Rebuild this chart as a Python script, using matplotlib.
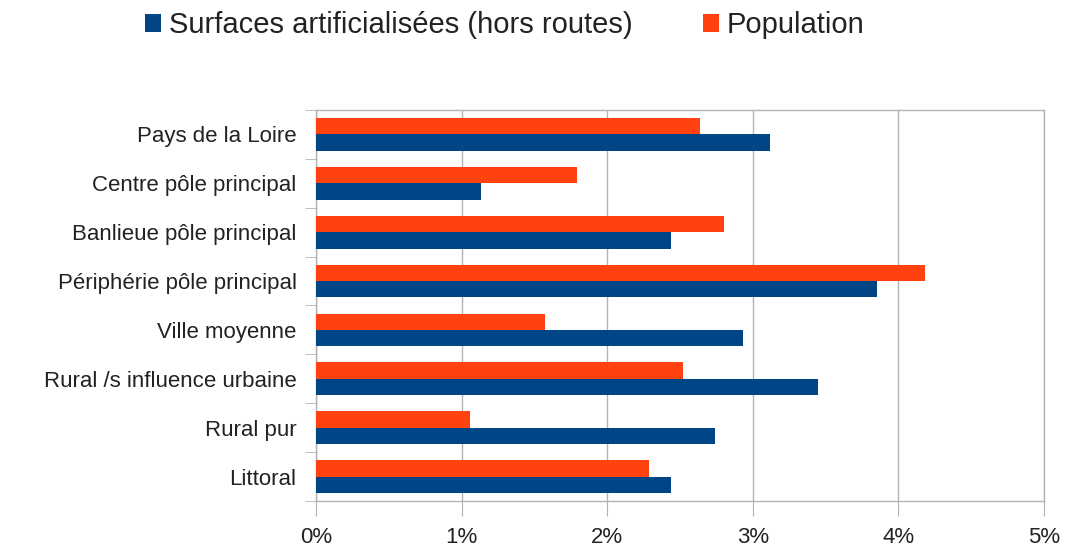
import matplotlib
matplotlib.use("Agg")
import matplotlib.pyplot as plt
import numpy as np
from matplotlib.ticker import FuncFormatter

categories = ["Pays de la Loire", "Centre pôle principal", "Banlieue pôle principal",
              "Périphérie pôle principal", "Ville moyenne", "Rural /s influence urbaine",
              "Rural pur", "Littoral"]
surfaces = [3.12, 1.13, 2.44, 3.85, 2.93, 3.45, 2.74, 2.44]
population = [2.64, 1.79, 2.80, 4.18, 1.57, 2.52, 1.06, 2.29]
xticks = [0, 1, 2, 3, 4, 5]

BLUE = "#004586"
ORANGE = "#ff420e"
GRID = "#b3b3b3"
TXT = "#222222"

plt.rcParams['font.family'] = ['Liberation Sans', 'DejaVu Sans']

fig = plt.figure(figsize=(10.7, 5.48), dpi=100)
ax = fig.add_axes([0.2953, 0.0858, 0.6804, 0.7135])

n = len(categories)
y = np.arange(n)[::-1].astype(float)
h = 0.335
ax.barh(y + h / 2, population, height=h, color=ORANGE, label="Population", zorder=3)
ax.barh(y - h / 2, surfaces, height=h, color=BLUE, label="Surfaces artificialisées (hors routes)", zorder=3)

ax.set_xlim(0, 5)
ax.set_ylim(-0.5, n - 0.5)
ax.set_xticks(xticks)
ax.xaxis.set_major_formatter(FuncFormatter(lambda v, p: f"{int(v)}%"))
ax.set_yticks(y)
ax.set_yticklabels(categories)
ax.set_yticks(np.arange(-0.5, n, 1.0), minor=True)
ax.tick_params(axis='y', which='major', length=0, pad=14, labelsize=16, labelcolor=TXT)
ax.tick_params(axis='y', which='minor', length=8, color=GRID)
ax.tick_params(axis='x', which='major', length=11, color=GRID, labelsize=16, labelcolor=TXT, pad=8)
ax.grid(axis='x', color=GRID, linewidth=1, zorder=0)
for s in ax.spines.values():
    s.set_color(GRID)
    s.set_linewidth(1)

handles, labels = ax.get_legend_handles_labels()
leg = fig.legend(handles[::-1], labels[::-1], loc='center left', bbox_to_anchor=(0.1355, 0.954), ncol=2,
                 frameon=False, fontsize=21, handlelength=0.55, handleheight=0.55,
                 handletextpad=0.27, columnspacing=2.4, borderpad=0, borderaxespad=0)
for t in leg.get_texts():
    t.set_color(TXT)

fig.savefig("out.png", dpi=100)
